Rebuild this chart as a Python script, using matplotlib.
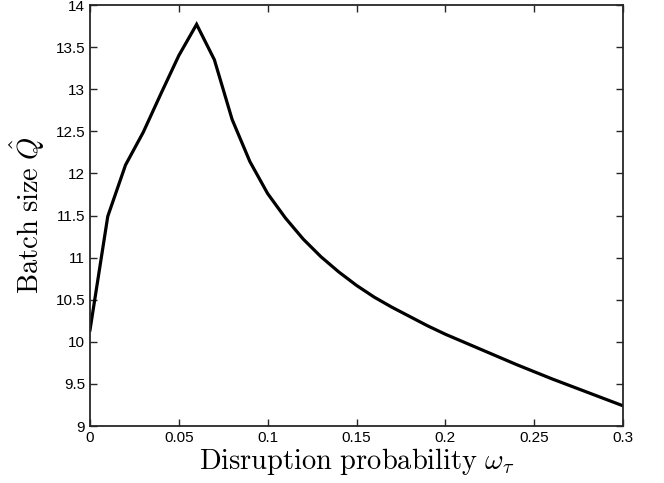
import numpy as np
import matplotlib
matplotlib.use("Agg")
import matplotlib.pyplot as plt
from matplotlib.ticker import FuncFormatter

# disruption probability and resulting optimal batch size
omega = [0.00, 0.01, 0.02, 0.03, 0.04, 0.05, 0.06, 0.07, 0.08, 0.09, 0.10,
         0.11, 0.12, 0.13, 0.14, 0.15, 0.16, 0.17, 0.18, 0.19, 0.20,
         0.21, 0.22, 0.23, 0.24, 0.25, 0.26, 0.27, 0.28, 0.29, 0.30]
batch_size = [10.14, 11.49, 12.10, 12.49, 12.95, 13.40, 13.77, 13.35, 12.64, 12.14, 11.76,
              11.47, 11.22, 11.01, 10.83, 10.67, 10.53, 10.41, 10.30, 10.19, 10.09,
              10.00, 9.91, 9.82, 9.73, 9.645, 9.56, 9.48, 9.40, 9.32, 9.24]

x_ticks = [0, 0.05, 0.1, 0.15, 0.2, 0.25, 0.3]
y_ticks = [9, 9.5, 10, 10.5, 11, 11.5, 12, 12.5, 13, 13.5, 14]

plt.rcParams['font.family'] = ['Liberation Sans', 'DejaVu Sans']
plt.rcParams['mathtext.fontset'] = 'cm'

fig = plt.figure(figsize=(6.64, 4.83), dpi=100)
ax = fig.add_axes([90 / 664, 57 / 483, 533 / 664, 421 / 483])

ax.plot(omega, batch_size, color='black', linewidth=2.3, solid_joinstyle='miter')

ax.set_xlim(0, 0.3)
ax.set_ylim(9, 14)
ax.set_xticks(x_ticks)
ax.set_yticks(y_ticks)
ax.xaxis.set_major_formatter(FuncFormatter(lambda v, p: f"{v:g}"))
ax.yaxis.set_major_formatter(FuncFormatter(lambda v, p: f"{v:g}"))
ax.tick_params(direction='in', length=5, width=1, top=True, right=True,
               labelsize=11, colors='#262626', labelcolor='black', pad=3.5)
for s in ax.spines.values():
    s.set_linewidth(1.3)
    s.set_color('#262626')

ax.set_xlabel(r'$\mathrm{Disruption\ probability}\ \omega_\tau$', fontsize=20.5, labelpad=1)
ax.set_ylabel(r'$\mathrm{Batch\ size}\ \hat{Q}$', fontsize=20.5, labelpad=6)

fig.savefig('out.png', dpi=100)
